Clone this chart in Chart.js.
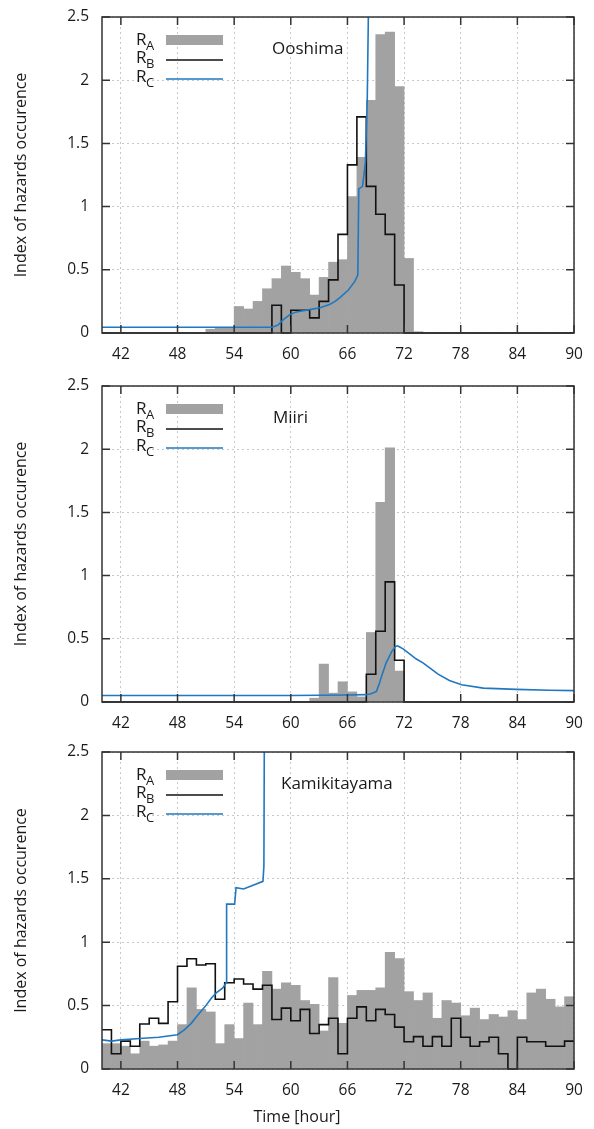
<!DOCTYPE html>
<html>
<head>
<meta charset="utf-8">
<script src="https://cdn.jsdelivr.net/npm/chart.js@4.4.1/dist/chart.umd.min.js"></script>
<style>
body { margin: 0; background: #fff; }
#wrap { position: relative; width: 594px; height: 1129px; }
canvas { position: absolute; left: 0; }
</style>
</head>
<body>
<div id="wrap">
  <canvas id="c1" width="594" height="368" style="top:0px"></canvas>
  <canvas id="c2" width="594" height="368" style="top:368px"></canvas>
  <canvas id="c3" width="594" height="393" style="top:736px"></canvas>
</div>
<script>
// hourly bins (start hour of each bin)
const hours = [40, 41, 42, 43, 44, 45, 46, 47, 48, 49,
               50, 51, 52, 53, 54, 55, 56, 57, 58, 59,
               60, 61, 62, 63, 64, 65, 66, 67, 68, 69,
               70, 71, 72, 73, 74, 75, 76, 77, 78, 79,
               80, 81, 82, 83, 84, 85, 86, 87, 88, 89];
const xTicks = [42, 48, 54, 60, 66, 72, 78, 84, 90];
const yTicks = [0, 0.5, 1, 1.5, 2, 2.5];

// Ooshima
const ooshimaRA = [0, 0, 0, 0, 0, 0, 0, 0, 0, 0,
                   0, 0.03, 0.04, 0.04, 0.21, 0.19, 0.25, 0.35, 0.43, 0.53,
                   0.48, 0.43, 0.30, 0.44, 0.56, 0.58, 1.08, 1.39, 1.84, 2.36,
                   2.38, 1.95, 0.59, 0.01, 0, 0, 0, 0, 0, 0,
                   0, 0, 0, 0, 0, 0, 0, 0, 0, 0];
const ooshimaRB = [0, 0, 0, 0, 0, 0, 0, 0, 0, 0,
                   0, 0, 0, 0, 0, 0, 0, 0, 0.22, 0,
                   0.18, 0.18, 0.12, 0.25, 0.42, 0.78, 1.33, 1.71, 1.16, 0.94,
                   0.78, 0.38, 0, 0, 0, 0, 0, 0, 0, 0,
                   0, 0, 0, 0, 0, 0, 0, 0, 0, 0];
const ooshimaRCx = [40, 58.0, 58.4, 58.7, 59.2, 59.9, 60.5, 61.0, 62.0, 63.1, 64.1, 64.7, 65.2, 66.1, 66.8, 67.1, 67.2, 67.6, 67.9, 68.1, 68.25];
const ooshimaRCy = [0.045, 0.046, 0.055, 0.066, 0.106, 0.145, 0.165, 0.172, 0.185, 0.20, 0.225, 0.25, 0.28, 0.34, 0.41, 0.46, 1.14, 1.16, 1.35, 1.85, 2.7];

// Miiri
const miiriRA = [0, 0, 0, 0, 0, 0, 0, 0, 0, 0,
                 0, 0, 0, 0, 0, 0, 0, 0, 0, 0,
                 0, 0, 0.03, 0.30, 0.07, 0.16, 0.08, 0.04, 0.55, 1.58,
                 2.01, 0.245, 0, 0, 0, 0, 0, 0, 0, 0,
                 0, 0, 0, 0, 0, 0, 0, 0, 0, 0];
const miiriRB = [0, 0, 0, 0, 0, 0, 0, 0, 0, 0,
                 0, 0, 0, 0, 0, 0, 0, 0, 0, 0,
                 0, 0, 0, 0, 0, 0, 0, 0, 0.22, 0.56,
                 0.95, 0.33, 0, 0, 0, 0, 0, 0, 0, 0,
                 0, 0, 0, 0, 0, 0, 0, 0, 0, 0];
const miiriRCx = [40, 60, 66, 68.0, 68.5, 69.07, 69.4, 69.6, 70.1, 70.7, 71.1, 71.3, 71.54, 71.9, 73.3, 74.0, 75.07, 75.6, 76.8, 78.1, 80.4, 83.9, 87.4, 90];
const miiriRCy = [0.052, 0.052, 0.055, 0.058, 0.065, 0.084, 0.15, 0.20, 0.31, 0.40, 0.44, 0.445, 0.435, 0.42, 0.34, 0.31, 0.25, 0.22, 0.17, 0.137, 0.11, 0.10, 0.093, 0.09];

// Kamikitayama
const kamiRA = [0.20, 0.20, 0.18, 0.12, 0.22, 0.18, 0.19, 0.22, 0.35, 0.64,
                0.47, 0.45, 0.20, 0.35, 0.24, 0.52, 0.35, 0.77, 0.63, 0.68,
                0.66, 0.54, 0.51, 0.30, 0.72, 0.36, 0.58, 0.62, 0.62, 0.64,
                0.92, 0.87, 0.61, 0.54, 0.60, 0.40, 0.54, 0.52, 0.42, 0.48,
                0.39, 0.43, 0.41, 0.46, 0.39, 0.60, 0.63, 0.55, 0.49, 0.57];
const kamiRB = [0.31, 0.12, 0.22, 0.18, 0.355, 0.40, 0.36, 0.53, 0.81, 0.87,
                0.82, 0.83, 0.55, 0.68, 0.71, 0.67, 0.63, 0.66, 0.39, 0.48,
                0.38, 0.47, 0.28, 0.35, 0.40, 0.12, 0.40, 0.49, 0.38, 0.47,
                0.43, 0.33, 0.215, 0.255, 0.18, 0.255, 0.18, 0.40, 0.25, 0.18,
                0.215, 0.25, 0.12, 0, 0.25, 0.215, 0.215, 0.18, 0.18, 0.22];
const kamiRCx = [40, 41, 42, 44, 46, 48, 48.75, 49.45, 50.2, 50.9, 51.6, 52.1, 52.8, 53.15, 53.2, 54.05, 54.2, 55.0, 56.0, 57.05, 57.15, 57.2];
const kamiRCy = [0.23, 0.22, 0.23, 0.24, 0.25, 0.27, 0.31, 0.36, 0.43, 0.49, 0.56, 0.60, 0.64, 0.68, 1.30, 1.30, 1.43, 1.42, 1.45, 1.48, 1.6, 2.7];

const FONT = "'Open Sans', sans-serif";
const TEXT = '#1a1a1a';
const BLUE = '#1f78c1';
const GRAY = '#a2a2a2';

// frame with inward ticks, legend and station name
function decorPlugin(name, nameX, xTitle) {
    return {
        id: 'decor',
        afterDatasetsDraw(chart) {
            const ctx = chart.ctx;
            const a = chart.chartArea;
            const xs = chart.scales.x, ys = chart.scales.y;
            ctx.save();
            ctx.strokeStyle = '#333';
            ctx.lineWidth = 1.5;
            ctx.strokeRect(a.left, a.top, a.right - a.left, a.bottom - a.top);
            ctx.beginPath();
            xTicks.forEach(v => {
                const px = xs.getPixelForValue(v);
                ctx.moveTo(px, a.top); ctx.lineTo(px, a.top + 8);
                ctx.moveTo(px, a.bottom); ctx.lineTo(px, a.bottom - 8);
            });
            yTicks.forEach(v => {
                const py = ys.getPixelForValue(v);
                ctx.moveTo(a.left, py); ctx.lineTo(a.left + 8, py);
                ctx.moveTo(a.right, py); ctx.lineTo(a.right - 8, py);
            });
            ctx.stroke();

            // legend
            const rows = [
                {sub: 'A', base: 28, mark: 23, kind: 'box'},
                {sub: 'B', base: 45.5, mark: 43, kind: 'line', color: '#111'},
                {sub: 'C', base: 64.5, mark: 62, kind: 'line', color: BLUE}
            ];
            const lx = a.left + 34;
            rows.forEach(r => {
                ctx.fillStyle = TEXT;
                ctx.textAlign = 'left';
                ctx.textBaseline = 'alphabetic';
                ctx.font = '17px ' + FONT;
                ctx.fillText('R', lx, a.top + r.base);
                const w = ctx.measureText('R').width;
                ctx.font = '13px ' + FONT;
                ctx.fillText(r.sub, lx + w - 0.5, a.top + r.base + 5);
                if (r.kind === 'box') {
                    ctx.fillStyle = GRAY;
                    ctx.fillRect(a.left + 64, a.top + r.mark - 5, 57, 10);
                } else {
                    ctx.strokeStyle = r.color;
                    ctx.lineWidth = 1.6;
                    ctx.beginPath();
                    ctx.moveTo(a.left + 64, a.top + r.mark);
                    ctx.lineTo(a.left + 121, a.top + r.mark);
                    ctx.stroke();
                }
            });

            ctx.fillStyle = TEXT;
            ctx.font = '17px ' + FONT;
            ctx.textAlign = 'left';
            ctx.fillText(name, nameX, a.top + 36.5);

            if (xTitle) {
                ctx.font = '16px ' + FONT;
                ctx.textAlign = 'center';
                ctx.fillText(xTitle, chart.width / 2, a.bottom + 53);
            }
            ctx.restore();
        }
    };
}

function makePanel(id, name, nameX, ra, rb, rcx, rcy, padTop, xHeight, xTitle) {
    const bars = hours.map((h, i) => ({x: h + 0.5, y: ra[i]}));
    const steps = hours.map((h, i) => ({x: h, y: rb[i]}));
    steps.push({x: hours[hours.length - 1] + 1, y: rb[rb.length - 1]});
    const curve = rcx.map((x, i) => ({x: x, y: rcy[i]}));

    return new Chart(document.getElementById(id).getContext('2d'), {
        type: 'bar',
        data: {
            datasets: [
                {
                    type: 'line', label: 'RC', data: curve,
                    borderColor: BLUE, borderWidth: 1.6,
                    pointRadius: 0, tension: 0, fill: false, order: 1, clip: 0
                },
                {
                    type: 'line', label: 'RB', data: steps, stepped: true,
                    borderColor: '#111', borderWidth: 1.6,
                    pointRadius: 0, fill: false, order: 2, clip: 1
                },
                {
                    type: 'bar', label: 'RA', data: bars,
                    backgroundColor: GRAY, borderWidth: 0,
                    barPercentage: 1.0, categoryPercentage: 1.0, order: 3
                }
            ]
        },
        options: {
            animation: false,
            responsive: false,
            events: [],
            layout: { padding: { top: padTop, right: 20, left: 0, bottom: 0 } },
            plugins: { legend: { display: false }, tooltip: { enabled: false } },
            scales: {
                x: {
                    type: 'linear', min: 40, max: 90, offset: false,
                    afterBuildTicks: s => { s.ticks = xTicks.map(v => ({value: v})); },
                    afterFit: s => {
                        s.height = xHeight;
                        s.paddingLeft = 0; s.paddingRight = 0;
                    },
                    grid: { color: '#c8c8c8', lineWidth: 1, drawTicks: false, offset: false },
                    border: { display: false, dash: [2, 3] },
                    ticks: { color: TEXT, font: { family: FONT, size: 15.5 }, padding: 12, maxRotation: 0, autoSkip: false }
                },
                y: {
                    min: 0, max: 2.5,
                    afterBuildTicks: s => { s.ticks = yTicks.map(v => ({value: v})); },
                    afterFit: s => {
                        s.width = 102;
                        s.paddingTop = 0; s.paddingBottom = 0;
                    },
                    grid: { color: '#c8c8c8', lineWidth: 1, drawTicks: false },
                    border: { display: false, dash: [2, 3] },
                    ticks: { color: TEXT, font: { family: FONT, size: 15.5 }, padding: 13, callback: v => String(v) },
                    title: {
                        display: true, text: 'Index of hazards occurence', color: TEXT,
                        font: { family: FONT, size: 16 }, padding: { top: 12, bottom: 0 }
                    }
                }
            }
        },
        plugins: [decorPlugin(name, nameX, xTitle)]
    });
}

makePanel('c1', 'Ooshima', 272, ooshimaRA, ooshimaRB, ooshimaRCx, ooshimaRCy, 17, 35, null);
makePanel('c2', 'Miiri', 273, miiriRA, miiriRB, miiriRCx, miiriRCy, 18, 34, null);
makePanel('c3', 'Kamikitayama', 281, kamiRA, kamiRB, kamiRCx, kamiRCy, 16, 60, 'Time [hour]');
</script>
</body>
</html>
